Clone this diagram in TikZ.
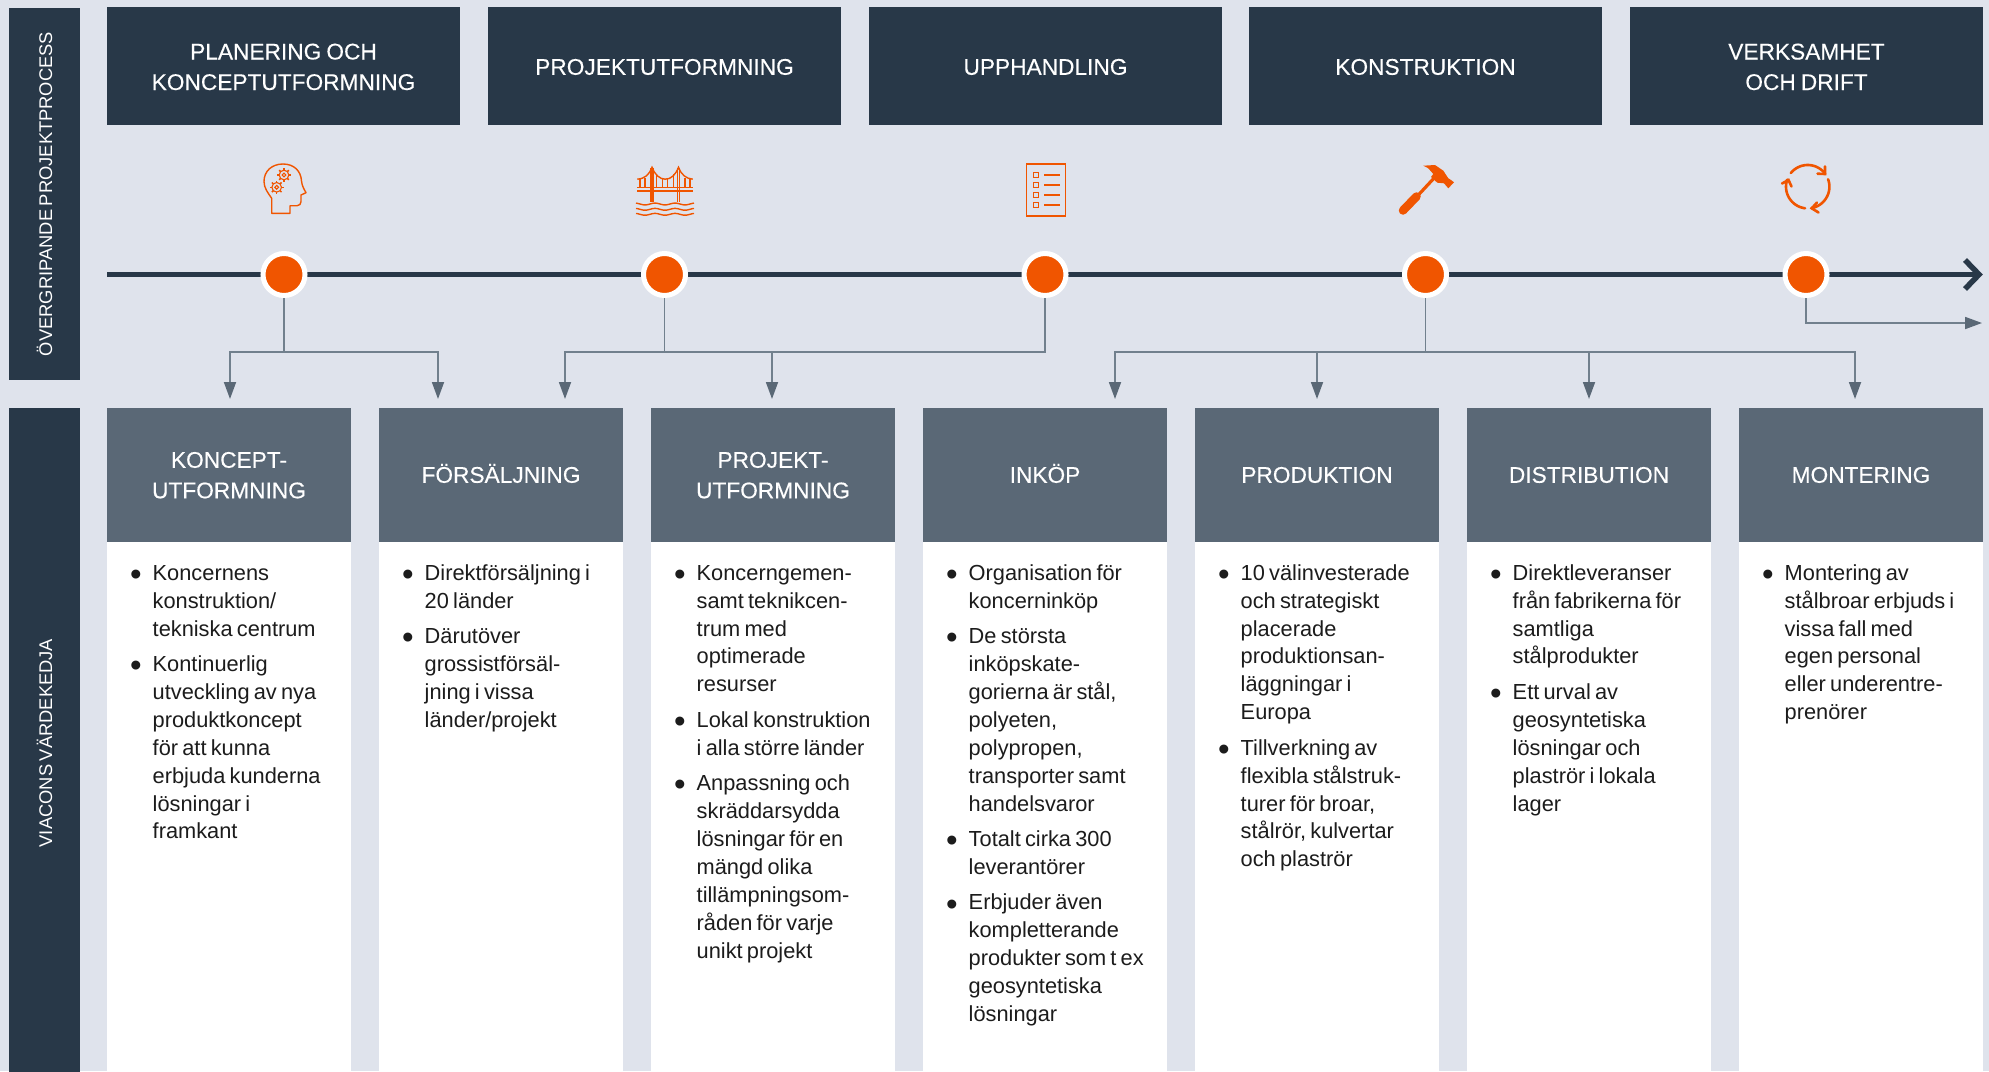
\documentclass[tikz,border=0pt]{standalone}
\usepackage{fontspec}
\setmainfont[WordSpace=0.7]{Liberation Sans}
\newfontfamily\headfont[FakeBold=0.25,WordSpace=0.8]{Liberation Sans}
\usetikzlibrary{arrows.meta,calc}
\definecolor{bgc}{HTML}{DFE3EC}
\definecolor{darkc}{HTML}{283848}
\definecolor{headc}{HTML}{5A6876}
\definecolor{orangec}{HTML}{F05500}
\definecolor{connc}{HTML}{71808D}
\definecolor{textc}{HTML}{1C1C1C}
\newcommand{\bul}{\strut\llap{\raisebox{-5.2pt}{\fontsize{33}{33}\selectfont •}\hspace{11pt}}}
\tikzset{
  sidebar/.style={rectangle,fill=darkc,text=white,rotate=90,minimum height=71pt,inner sep=0pt,font=\fontsize{18.35}{22}\selectfont},
  headtext/.style={rectangle,text=white,inner sep=0pt,align=center,font=\headfont\fontsize{22.7}{30.5}\selectfont,
    execute at begin node=\rule{0pt}{#1},execute at end node=\rule[-4.4pt]{0pt}{4.4pt}},
  procbox/.style={headtext=22pt,fill=darkc,minimum width=353pt,minimum height=118pt},
  procboxii/.style={headtext=52.4pt,fill=darkc,minimum width=353pt,minimum height=118pt},
  chainbox/.style={headtext=20pt,fill=headc,minimum width=244pt,minimum height=134pt},
  chainboxii/.style={headtext=51pt,fill=headc,minimum width=244pt,minimum height=134pt},
  card/.style={rectangle,fill=white,minimum width=244pt,minimum height=530pt,inner sep=0pt,anchor=north},
  bodytext/.style={anchor=north west,inner sep=0pt,align=left,text=textc,font=\fontsize{21.8}{27.9}\selectfont},
  stage/.style={circle,fill=orangec,draw=white,line width=5pt,minimum size=42pt,inner sep=0pt,outer sep=2.5pt},
  conn/.style={draw=connc,line width=1.8pt},
  connarrow/.style={conn,-{Triangle[length=17pt,width=12pt,color=headc]}},
  icon/.style={draw=orangec,line width=1.4pt,fill=none},
  iconb/.style={draw=orangec,line width=2.6pt,line cap=round,fill=none},
}
\begin{document}
\begin{tikzpicture}[x=1pt,y=-1pt]
\path[use as bounding box,fill=bgc] (0,0) rectangle (1989,1071);

% side bars
\node[sidebar,minimum width=372pt] (sidetop) at (44.5,194) {ÖVERGRIPANDE PROJEKTPROCESS};
\node[sidebar,minimum width=670pt] (sidebot) at (44.5,743) {VIACONS VÄRDEKEDJA};

% process boxes
\node[procboxii] (p1) at (283.5,66) {PLANERING OCH\\KONCEPTUTFORMNING};
\node[procbox] (p2) at (664.5,66) {PROJEKTUTFORMNING};
\node[procbox] (p3) at (1045.5,66) {UPPHANDLING};
\node[procbox] (p4) at (1425.5,66) {KONSTRUKTION};
\node[procboxii] (p5) at (1806.5,66) {VERKSAMHET\\OCH DRIFT};

% timeline
\coordinate (lstart) at (107,274.5);
\coordinate (lend) at (1979,274.5);
\coordinate (chevA) at (1965,260);
\coordinate (chevB) at (1965,289);
\draw[darkc,line width=5.5pt] (lstart) -- (lend);
\draw[darkc,line width=5.5pt,miter limit=10] (chevA) -- (lend) -- (chevB);
\node[stage] (c1) at (284,274.5) {};
\node[stage] (c2) at (664.5,274.5) {};
\node[stage] (c3) at (1045,274.5) {};
\node[stage] (c4) at (1425.5,274.5) {};
\node[stage] (c5) at (1806,274.5) {};

% connector ends
\foreach \n/\x in {1/230,2/438,3/565,4/772,5/1115,6/1317,7/1589,8/1855}{
  \coordinate (j\n) at (\x,352);
  \coordinate (a\n) at (\x,399);
}
\coordinate (tail) at (1982,323);
\draw[conn] (c1.south) -- (c1.south |- j1);
\draw[connarrow] (c1.south |- j1) -- (j1) -- (a1);
\draw[connarrow] (c1.south |- j1) -- (j2) -- (a2);
\draw[conn] (c2.south) -- (c2.south |- j3);
\draw[connarrow] (c2.south |- j3) -- (j3) -- (a3);
\draw[connarrow] (j4) -- (a4);
\draw[conn] (c3.south) -- (c3.south |- j3) -- (c2.south |- j3);
\draw[conn] (c4.south) -- (c4.south |- j5);
\draw[connarrow] (c4.south |- j5) -- (j5) -- (a5);
\draw[connarrow] (j6) -- (a6);
\draw[connarrow] (j7) -- (a7);
\draw[connarrow] (c4.south |- j5) -- (j8) -- (a8);
\draw[connarrow] (c5.south) |- (tail);

% icon: head with gears
\draw[icon,line join=round] (271.7,213.3) -- (271.7,198.3) .. controls (268,193) and (264,188) .. (264,181.5)
  .. controls (264,171) and (272,164) .. (283,164) .. controls (294,164) and (301,171) .. (301.5,181)
  .. controls (302,186) and (304,189) .. (306,192.7) -- (301,195) -- (301,201.7) .. controls (301,204) and (299.5,205.7) .. (297,205.7)
  -- (290,205.7) -- (290,213.3) -- cycle;
\foreach \cx/\cy in {284/175,276.7/187.3}{
  \draw[orangec,line width=1.1pt] (\cx,\cy) circle (4.8pt);
  \draw[orangec,line width=1.1pt] (\cx,\cy) circle (1.9pt);
  \foreach \a in {0,45,...,315}
    \draw[orangec,line width=1.5pt] ($(\cx,\cy)+(\a:4.8pt)$) -- ($(\cx,\cy)+(\a:6.8pt)$);
}

% icon: bridge
\draw[icon] (651,167.5) -- (651,201.7) (653,167.5) -- (653,201.7);
\draw[icon] (677.5,167.5) -- (677.5,201.7) (679.5,167.5) -- (679.5,201.7);
\draw[icon] (637.3,187.4) -- (692.7,187.4) (637.3,190.8) -- (692.7,190.8);
\draw[icon] (637.3,179.2) .. controls (645,178.5) and (649,175) .. (652,167.3)
  .. controls (655,175) and (660,179.2) .. (665.2,179.2)
  .. controls (671,179.2) and (675.5,175) .. (678.5,167.3)
  .. controls (681.5,175) and (686,178.5) .. (692.7,179.2);
\foreach \hx/\hy in {640/179,645/178,656.7/174,662.3/178.5,667.7/178.5,673.3/174,685/178,690/179}
  \draw[icon,line width=1.2pt] (\hx,\hy) -- (\hx,187.4);
\foreach \wy in {204,209.3,214.3}
  \draw[icon] plot[domain=636:694,samples=60,smooth] (\x,{\wy+0.9*sin(\x*18)});

% icon: checklist
\draw[icon] (1026.5,164) rectangle (1065.5,216);
\foreach \ly in {175.3,185,195,204.7}{
  \draw[icon,line width=1.1pt] (1033.7,\ly-2.4) rectangle (1038.7,\ly+2.4);
  \draw[orangec,line width=1.7pt] (1044,\ly) -- (1060,\ly);
}

% icon: hammer
\draw[orangec,line width=3.2pt] (1416,197.5) -- (1436,176);
\draw[orangec,line width=8.5pt,line cap=round] (1403,210.5) -- (1416.5,196.5);
\fill[orangec] (1423.3,165.7) -- (1435,165) -- (1443.3,170.7) -- (1448.3,178.3) -- (1451,180) -- (1454,182.3) -- (1448.3,188.3) -- (1444,183.3) -- (1437.3,182.7) -- (1431,177) -- (1433.3,174) -- (1428.3,168.3) -- cycle;

% icon: cycle arrows
\draw[iconb] plot[domain=141:36,samples=30,smooth] ({1807.7+21.7*cos(\x)},{186.7-21.7*sin(\x)});
\draw[iconb] (1825,166.5) -- (1825,174) -- (1817.5,173.7);
\draw[iconb] plot[domain=20:-80,samples=30,smooth] ({1807.7+21.7*cos(\x)},{186.7-21.7*sin(\x)});
\draw[iconb] (1817,202.5) -- (1811.7,208.3) -- (1818.5,212.5);
\draw[iconb] plot[domain=263:161,samples=30,smooth] ({1807.7+21.7*cos(\x)},{186.7-21.7*sin(\x)});
\draw[iconb] (1782,183.5) -- (1788.5,180) -- (1791.5,186.5);

% value chain
\foreach \n/\l in {1/107,2/379,3/651,4/923,5/1195,6/1467,7/1739}
  \node[card] (card\n) at (\l+122,541) {};
\node[chainboxii] (v1) at (229,475) {KONCEPT-\\UTFORMNING};
\node[chainbox] (v2) at (501,475) {FÖRSÄLJNING};
\node[chainboxii] (v3) at (773,475) {PROJEKT-\\UTFORMNING};
\node[chainbox] (v4) at (1045,475) {INKÖP};
\node[chainbox] (v5) at (1317,475) {PRODUKTION};
\node[chainbox] (v6) at (1589,475) {DISTRIBUTION};
\node[chainbox] (v7) at (1861,475) {MONTERING};

\node[bodytext] (t1) at (152.5,560.5) {\bul Koncernens\\konstruktion/\\tekniska centrum\\[7.6pt]
\bul Kontinuerlig\\utveckling av nya\\produktkoncept\\för att kunna\\erbjuda kunderna\\lösningar i\\framkant};
\node[bodytext] (t2) at (424.5,560.5) {\bul Direktförsäljning i\\20 länder\\[7.6pt]
\bul Därutöver\\grossistförsäl-\\jning i vissa\\länder/projekt};
\node[bodytext] (t3) at (696.5,560.5) {\bul Koncerngemen-\\samt teknikcen-\\trum med\\optimerade\\resurser\\[7.6pt]
\bul Lokal konstruktion\\i alla större länder\\[7.6pt]
\bul Anpassning och\\skräddarsydda\\lösningar för en\\mängd olika\\tillämpningsom-\\råden för varje\\unikt projekt};
\node[bodytext] (t4) at (968.5,560.5) {\bul Organisation för\\koncerninköp\\[7.6pt]
\bul De största\\inköpskate-\\gorierna är stål,\\polyeten,\\polypropen,\\transporter samt\\handelsvaror\\[7.6pt]
\bul Totalt cirka 300\\leverantörer\\[7.6pt]
\bul Erbjuder även\\kompletterande\\produkter som t ex\\geosyntetiska\\lösningar};
\node[bodytext] (t5) at (1240.5,560.5) {\bul 10 välinvesterade\\och strategiskt\\placerade\\produktionsan-\\läggningar i\\Europa\\[7.6pt]
\bul Tillverkning av\\flexibla stålstruk-\\turer för broar,\\stålrör, kulvertar\\och plaströr};
\node[bodytext] (t6) at (1512.5,560.5) {\bul Direktleveranser\\från fabrikerna för\\samtliga\\stålprodukter\\[7.6pt]
\bul Ett urval av\\geosyntetiska\\lösningar och\\plaströr i lokala\\lager};
\node[bodytext] (t7) at (1784.5,560.5) {\bul Montering av\\stålbroar erbjuds i\\vissa fall med\\egen personal\\eller underentre-\\prenörer};
\end{tikzpicture}
\end{document}
